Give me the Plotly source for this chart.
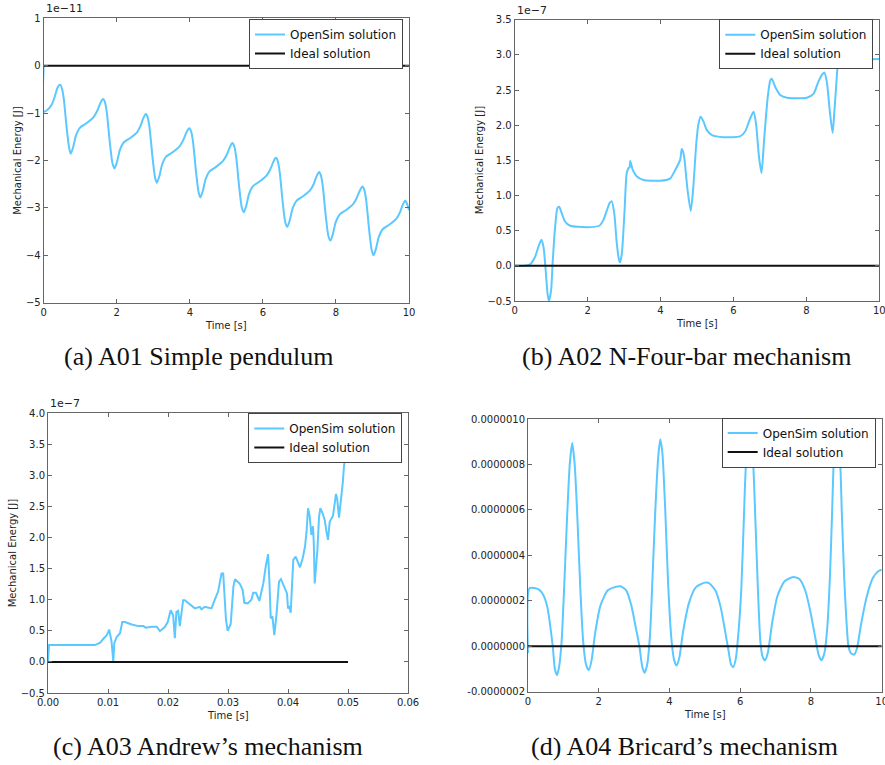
import plotly.graph_objects as go

# ---------------- (a) A01 Simple pendulum  (energy in 1e-11 J) ----------------
t_a = [0.0, 0.005, 0.12, 0.22, 0.30, 0.37, 0.41, 0.45, 0.50, 0.55, 0.63, 0.70,
       0.74, 0.81, 0.88, 0.99, 1.16, 1.36, 1.46, 1.54, 1.60, 1.63, 1.68, 1.73, 1.81, 1.88,
       1.94, 2.01, 2.08, 2.19, 2.36, 2.56, 2.65, 2.72, 2.77, 2.80, 2.85, 2.90, 2.98, 3.05,
       3.10, 3.17, 3.24, 3.35, 3.52, 3.72, 3.82, 3.90, 3.96, 3.99, 4.04, 4.09, 4.17, 4.24,
       4.29, 4.36, 4.43, 4.54, 4.71, 4.91, 5.01, 5.09, 5.14, 5.17, 5.22, 5.27, 5.35, 5.42,
       5.48, 5.55, 5.62, 5.73, 5.90, 6.10, 6.20, 6.28, 6.33, 6.36, 6.41, 6.46, 6.54, 6.61,
       6.67, 6.74, 6.81, 6.92, 7.09, 7.29, 7.39, 7.46, 7.51, 7.54, 7.59, 7.64, 7.72, 7.79,
       7.85, 7.92, 7.99, 8.10, 8.27, 8.47, 8.57, 8.65, 8.70, 8.73, 8.78, 8.83, 8.91, 8.98,
       9.03, 9.10, 9.17, 9.28, 9.45, 9.65, 9.75, 9.82, 9.87, 9.90, 9.95, 10.0]
e_a = [0.0, -0.97, -0.92, -0.82, -0.66, -0.48, -0.42, -0.40, -0.48, -0.70, -1.32, -1.75,
       -1.86, -1.71, -1.48, -1.31, -1.22, -1.09, -0.96, -0.81, -0.72, -0.70, -0.78, -1.00, -1.62, -2.05,
       -2.17, -2.02, -1.79, -1.62, -1.53, -1.40, -1.27, -1.12, -1.04, -1.02, -1.10, -1.32, -1.94, -2.37,
       -2.47, -2.32, -2.09, -1.92, -1.83, -1.70, -1.57, -1.42, -1.34, -1.32, -1.40, -1.62, -2.24, -2.67,
       -2.78, -2.63, -2.40, -2.23, -2.14, -2.01, -1.88, -1.73, -1.65, -1.63, -1.71, -1.93, -2.55, -2.98,
       -3.09, -2.94, -2.71, -2.54, -2.45, -2.32, -2.19, -2.04, -1.96, -1.94, -2.02, -2.24, -2.86, -3.29,
       -3.40, -3.25, -3.02, -2.85, -2.76, -2.63, -2.50, -2.35, -2.27, -2.24, -2.32, -2.54, -3.16, -3.58,
       -3.69, -3.54, -3.31, -3.14, -3.05, -2.92, -2.79, -2.64, -2.57, -2.55, -2.63, -2.85, -3.47, -3.90,
       -4.00, -3.85, -3.62, -3.45, -3.36, -3.23, -3.10, -2.95, -2.87, -2.85, -2.92, -3.05]
t_a_ideal = [0, 10]
e_a_ideal = [0, 0]

# ---------------- (b) A02 N-Four-bar mechanism  (energy in 1e-7 J) ----------------
t_b = [0.0, 0.28, 0.42, 0.56, 0.65, 0.73, 0.79, 0.84, 0.90, 0.94, 1.00, 1.04, 1.11, 1.17,
       1.22, 1.29, 1.38, 1.52, 1.98, 2.32, 2.43, 2.53, 2.60, 2.66, 2.73, 2.80, 2.86, 2.89,
       2.94, 3.01, 3.07, 3.12, 3.15, 3.17, 3.24, 3.35, 3.53, 3.99, 4.26, 4.40, 4.54, 4.58,
       4.62, 4.66, 4.74, 4.83, 4.90, 4.98, 5.04, 5.10, 5.18, 5.27, 5.41, 5.73, 6.18, 6.32,
       6.44, 6.55, 6.62, 6.70, 6.77, 6.84, 6.94, 7.01, 7.05, 7.15, 7.28, 7.47, 8.01, 8.20,
       8.33, 8.43, 8.49, 8.56, 8.64, 8.72, 8.77, 8.84, 8.88, 8.93, 9.00, 9.10, 9.30, 9.50,
       9.70, 10.0]
e_b = [0.0, 0.0, 0.02, 0.13, 0.27, 0.37, 0.27, 0.0, -0.39, -0.50, -0.34, 0.04, 0.56, 0.82,
       0.84, 0.75, 0.63, 0.57, 0.55, 0.57, 0.65, 0.79, 0.89, 0.92, 0.75, 0.32, 0.085, 0.05,
       0.18, 0.75, 1.31, 1.39, 1.40, 1.49, 1.36, 1.27, 1.22, 1.21, 1.24, 1.36, 1.51, 1.66,
       1.62, 1.50, 1.08, 0.78, 1.13, 1.74, 2.02, 2.12, 2.05, 1.93, 1.86, 1.83, 1.84, 1.91,
       2.07, 2.19, 2.02, 1.55, 1.32, 1.79, 2.40, 2.64, 2.66, 2.54, 2.43, 2.39, 2.39, 2.45,
       2.62, 2.72, 2.75, 2.62, 2.21, 1.89, 2.21, 2.73, 2.99, 3.15, 3.25, 3.22, 3.05, 2.97,
       2.94, 2.94]
t_b_ideal = [0, 10]
e_b_ideal = [0, 0]

# ---------------- (c) A03 Andrew's mechanism  (energy in 1e-7 J) ----------------
t_c = [0.0, 0.00017, 0.0078, 0.0087, 0.0093, 0.0098, 0.0102, 0.0106, 0.01088, 0.01105,
       0.01145, 0.01172, 0.0120, 0.01238, 0.01283, 0.01395, 0.01505, 0.0159, 0.01628,
       0.01728, 0.01812, 0.01865, 0.0195, 0.01995, 0.02045, 0.02086, 0.02114, 0.0214,
       0.0217, 0.02197, 0.02252, 0.0228, 0.02392, 0.02447, 0.0253, 0.02558, 0.02614,
       0.02725, 0.0278, 0.02835, 0.02892, 0.0292, 0.02967, 0.02995, 0.03045, 0.0309,
       0.03117, 0.0320, 0.03245, 0.03272, 0.03328, 0.0339, 0.0342, 0.03467, 0.03522,
       0.03588, 0.03633, 0.03668, 0.0369, 0.03712, 0.0374, 0.03772, 0.0381, 0.0385,
       0.03883, 0.0395, 0.03983, 0.0400, 0.04022, 0.04045, 0.04088, 0.04128, 0.0420,
       0.04245, 0.04283, 0.0431, 0.04334, 0.0436, 0.0439, 0.04417, 0.0443, 0.04445,
       0.0447, 0.0449, 0.04517, 0.0454, 0.0458, 0.04612, 0.0464, 0.04667, 0.04695,
       0.0475, 0.0480, 0.0482, 0.0485, 0.04883, 0.04912, 0.04933, 0.04955, 0.0498, 0.0500]
e_c = [0.0, 0.27, 0.27, 0.31, 0.38, 0.43, 0.52, 0.32, 0.01, 0.30,
       0.40, 0.43, 0.46, 0.64, 0.64, 0.60, 0.575, 0.575, 0.55,
       0.565, 0.565, 0.494, 0.565, 0.64, 0.83, 0.75, 0.38, 0.805,
       0.82, 0.575, 0.99, 0.99, 0.91, 0.86, 0.885, 0.845, 0.885,
       0.86, 1.0, 1.13, 1.42, 1.42, 0.67, 0.50, 0.61, 1.21,
       1.33, 1.25, 1.155, 0.95, 0.94, 1.0, 1.11, 1.11, 0.98,
       1.26, 1.56, 1.73, 1.30, 0.70, 0.73, 0.43, 0.78, 1.29,
       1.33, 1.18, 1.10, 0.86, 0.88, 0.79, 1.64, 1.69, 1.52,
       1.665, 1.85, 2.10, 2.47, 2.35, 2.04, 2.18, 1.90, 1.26,
       1.50, 1.80, 2.33, 2.47, 2.38, 2.28, 2.10, 1.96, 2.25,
       2.35, 2.70, 2.62, 2.32, 2.60, 2.87, 3.14, 3.30, 3.50, 3.62]
t_c_ideal = [0, 0.05]
e_c_ideal = [0, 0]

# ---------------- (d) A04 Bricard's mechanism  (energy in 1e-7 J) ----------------
t_d = [0.0, 0.047, 0.30, 0.45, 0.55, 0.62, 0.70, 0.76, 0.82, 0.88, 0.95, 1.02, 1.10,
       1.18, 1.25, 1.32, 1.40, 1.48, 1.56, 1.64, 1.72, 1.80, 1.90, 2.05, 2.25, 2.45,
       2.62, 2.78, 2.92, 3.05, 3.15, 3.23, 3.30, 3.37, 3.45, 3.52, 3.60, 3.68, 3.74,
       3.80, 3.88, 3.96, 4.05, 4.13, 4.20, 4.28, 4.38, 4.55, 4.75, 5.00, 5.12, 5.30,
       5.45, 5.58, 5.67, 5.74, 5.80, 5.87, 5.95, 6.03, 6.10, 6.17, 6.27, 6.36, 6.43,
       6.50, 6.57, 6.63, 6.70, 6.78, 6.90, 7.05, 7.25, 7.50, 7.68, 7.85, 8.00, 8.12,
       8.22, 8.30, 8.38, 8.46, 8.54, 8.60, 8.65, 8.73, 8.82, 8.87, 8.94, 9.00, 9.06,
       9.13, 9.22, 9.30, 9.42, 9.58, 9.75, 9.90, 10.0]
e_d = [-0.30, 2.56, 2.50, 2.20, 1.70, 1.00, 0.0, -1.00, -1.27, -0.90, 0.20, 2.50, 5.50,
       8.00, 8.94, 8.00, 5.50, 2.50, 0.20, -0.80, -1.05, -0.60, 0.60, 1.80, 2.45, 2.60,
       2.64, 2.45, 1.80, 0.80, 0.0, -0.90, -1.17, -0.80, 0.50, 3.00, 6.00, 8.30, 9.11,
       8.50, 6.00, 2.80, 0.40, -0.60, -0.85, -0.50, 0.60, 1.90, 2.60, 2.80, 2.78, 2.45,
       1.70, 0.60, -0.20, -0.80, -0.92, -0.60, 0.60, 2.50, 5.50, 8.20, 9.30, 8.20, 5.50,
       2.50, 0.20, -0.45, -0.62, -0.30, 1.00, 2.20, 2.85, 3.05, 2.95, 2.40, 1.40, 0.40,
       -0.40, -0.62, -0.30, 0.80, 3.20, 6.00, 8.30, 9.35, 8.30, 6.00, 3.00, 1.20, 0.0,
       -0.30, -0.37, -0.10, 1.00, 2.20, 3.00, 3.30, 3.37]
t_d_ideal = [0, 10]
e_d_ideal = [0, 0]
d_tickvals = [-2, 0, 2, 4, 6, 8, 10]
d_ticktext = ["-0.0000002", "0.0000000", "0.0000002", "0.0000004",
              "0.0000006", "0.0000008", "0.0000010"]

captions = ["(a) A01 Simple pendulum", "(b) A02 N-Four-bar mechanism",
            "(c) A03 Andrew\u2019s mechanism", "(d) A04 Bricard\u2019s mechanism"]

W, H = 885, 765
BLUE = "#5bc8ff"
BLACK = "#111111"
FRAME = "#666666"
SANS = "DejaVu Sans"


def px_x(p):
    return p / W


def px_y(p):
    return 1 - p / H


# plot-area boxes in pixels: (left, top, right, bottom)
boxes = [(43.7, 18.3, 409.0, 302.7),
         (514.7, 19.7, 879.3, 301.0),
         (48.0, 413.0, 408.0, 693.0),
         (528.0, 419.0, 881.7, 691.7)]

fig = go.Figure()

series = [(t_a, e_a, t_a_ideal, e_a_ideal),
          (t_b, e_b, t_b_ideal, e_b_ideal),
          (t_c, e_c, t_c_ideal, e_c_ideal),
          (t_d, e_d, t_d_ideal, e_d_ideal)]
legend_names = ["legend", "legend2", "legend3", "legend4"]
shapes_ = ["spline", "spline", "linear", "spline"]

for i, (tx, ey, ti, ei) in enumerate(series):
    sfx = "" if i == 0 else str(i + 1)
    fig.add_trace(go.Scatter(x=tx, y=ey, mode="lines", name="OpenSim solution",
                             line=dict(color=BLUE, width=2, shape=shapes_[i], smoothing=0.6),
                             xaxis="x" + sfx, yaxis="y" + sfx, legend=legend_names[i]))
    fig.add_trace(go.Scatter(x=ti, y=ei, mode="lines", name="Ideal solution",
                             line=dict(color=BLACK, width=2),
                             xaxis="x" + sfx, yaxis="y" + sfx, legend=legend_names[i]))

axis_common = dict(showline=True, linecolor=FRAME, linewidth=1, mirror="ticks",
                   ticks="inside", ticklen=4, tickcolor=FRAME, showgrid=False,
                   zeroline=False, automargin=False, ticklabeloverflow="allow",
                   tickfont=dict(family=SANS, size=10, color="#222"))

x_ranges = [[0, 10], [0, 10], [0, 0.06], [0, 10]]
x_dticks = [2, 2, 0.01, 2]
x_formats = ["d", "d", ".2f", "d"]
y_ranges = [[-5, 1], [-0.5, 3.5], [-0.5, 4.0], [-2, 10]]
y_dticks = [1, 0.5, 0.5, 2]
y_formats = ["d", ".1f", ".1f", None]

layout = dict(width=W, height=H,
              margin=dict(l=0, r=0, t=0, b=0, pad=0, autoexpand=False),
              paper_bgcolor="white", plot_bgcolor="white", showlegend=True)

# legend boxes: (right edge, vertical centre) in pixels
legend_pos = [(403.0, 44.0), (873.3, 44.2), (402.3, 438.0), (875.7, 442.6)]

annotations = []
for i in range(4):
    sfx = "" if i == 0 else str(i + 1)
    l, t, r, b = boxes[i]
    xa = dict(axis_common, domain=[px_x(l), px_x(r)], range=x_ranges[i],
              dtick=x_dticks[i], tick0=0, tickformat=x_formats[i],
              anchor="y" + sfx)
    ya = dict(axis_common, domain=[px_y(b), px_y(t)], range=y_ranges[i],
              anchor="x" + sfx)
    if i == 3:
        ya.update(tickmode="array", tickvals=d_tickvals, ticktext=d_ticktext)
    else:
        ya.update(dtick=y_dticks[i], tick0=0, tickformat=y_formats[i])
    layout["xaxis" + sfx] = xa
    layout["yaxis" + sfx] = ya

    lx, ly = legend_pos[i]
    layout[legend_names[i]] = dict(x=px_x(lx), y=px_y(ly), xanchor="right", yanchor="middle",
                                   bgcolor="white", bordercolor="#444", borderwidth=1,
                                   font=dict(family=SANS, size=12, color="#111"),
                                   tracegroupgap=0)

    # x-axis title
    annotations.append(dict(text="Time [s]", x=px_x((l + r) / 2), y=px_y(b + 22.5),
                            xref="paper", yref="paper", showarrow=False,
                            xanchor="center", yanchor="middle",
                            font=dict(family=SANS, size=10, color="#222")))

# y-axis titles
for (cx, i) in [(17.3, 0), (479.0, 1), (12.3, 2)]:
    l, t, r, b = boxes[i]
    annotations.append(dict(text="Mechanical Energy [J]", x=px_x(cx), y=px_y((t + b) / 2),
                            xref="paper", yref="paper", showarrow=False, textangle=-90,
                            xanchor="center", yanchor="middle",
                            font=dict(family=SANS, size=10, color="#222")))

# offset (multiplier) labels above the axes
for (txt, i) in [("1e\u221211", 0), ("1e\u22127", 1), ("1e\u22127", 2)]:
    l, t, r, b = boxes[i]
    annotations.append(dict(text=txt, x=px_x(l), y=px_y(t - 1), xref="paper", yref="paper",
                            showarrow=False, xanchor="left", yanchor="bottom",
                            font=dict(family=SANS, size=11, color="#222")))

# sub-figure captions
cap_pos = [(198, 356), (686, 356), (208, 746), (684, 746)]
for txt, (cx, cy) in zip(captions, cap_pos):
    annotations.append(dict(text=txt, x=px_x(cx), y=px_y(cy), xref="paper", yref="paper",
                            showarrow=False, xanchor="center", yanchor="middle",
                            font=dict(family="Liberation Serif", size=26, color="#111")))

layout["annotations"] = annotations
fig.update_layout(**layout)
fig.write_html("out.html")
